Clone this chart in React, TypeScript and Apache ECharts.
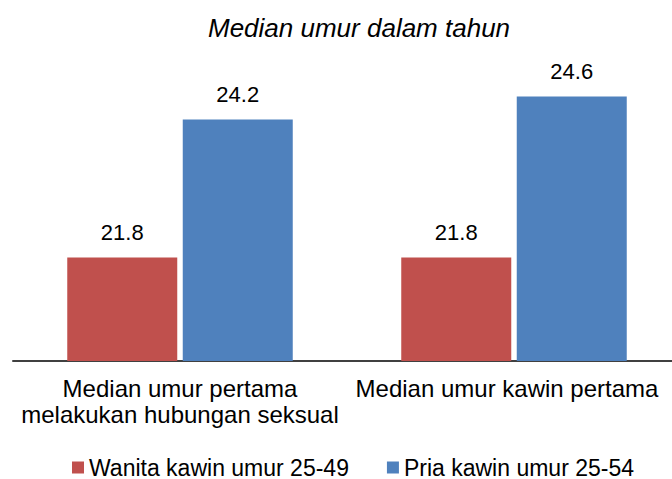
import React, { useEffect, useRef } from "react";
import * as echarts from "echarts";

const categories = [
  "Median umur pertama\nmelakukan hubungan seksual",
  "Median umur kawin pertama",
];
const seriesNames = ["Wanita kawin umur 25-49", "Pria kawin umur 25-54"];
const wanitaValues = [21.8, 21.8];
const priaValues = [24.2, 24.6];
const titleText = "Median umur dalam tahun";

const FONT = "'Liberation Sans', Arial, sans-serif";

export default function App() {
  const ref = useRef<HTMLDivElement>(null);
  useEffect(() => {
    document.body.style.margin = "0";
    if (!ref.current) return;
    const chart = echarts.init(ref.current, undefined, { renderer: "svg" });
    const valueLabel = {
      show: true,
      position: "top",
      distance: 14,
      fontFamily: FONT,
      fontSize: 22,
      color: "#000000",
      formatter: (p: any) => p.value.toFixed(1),
    };
    chart.setOption({
      animation: false,
      backgroundColor: "#ffffff",
      textStyle: { fontFamily: FONT },
      title: {
        text: titleText,
        left: 203,
        top: 10,
        textStyle: {
          fontFamily: FONT,
          fontStyle: "italic",
          fontWeight: "normal",
          fontSize: 26,
          color: "#000000",
        },
      },
      legend: {
        data: seriesNames,
        left: 72,
        top: 456,
        padding: 0,
        itemWidth: 12,
        itemHeight: 12,
        itemGap: 38,
        icon: "rect",
        textStyle: { fontFamily: FONT, fontSize: 23, color: "#000000", lineHeight: 22 },
      },
      grid: { left: 13, top: 16, right: 0, bottom: 118 },
      xAxis: {
        type: "category",
        data: categories,
        axisLine: { lineStyle: { color: "#404040", width: 2 } },
        axisTick: { show: false },
        axisLabel: {
          interval: 0,
          fontFamily: FONT,
          fontSize: 24,
          color: "#000000",
          lineHeight: 26,
          margin: 14,
          align: "center",
          formatter: (v: string, i: number) => (i === 1 ? `{r|${v}}` : v),
          rich: {
            r: {
              fontFamily: FONT,
              fontSize: 24,
              color: "#000000",
              lineHeight: 26,
              padding: [0, 14, 0, 0],
            },
          },
        },
      },
      yAxis: {
        type: "value",
        min: 20,
        max: 26,
        show: false,
        splitLine: { show: false },
      },
      series: [
        {
          name: seriesNames[0],
          type: "bar",
          data: wanitaValues,
          barWidth: 110,
          barGap: "5%",
          itemStyle: { color: "#C0504D" },
          label: valueLabel,
        },
        {
          name: seriesNames[1],
          type: "bar",
          data: priaValues,
          barWidth: 110,
          barGap: "5%",
          itemStyle: { color: "#4F81BD" },
          label: valueLabel,
        },
      ],
    });
    return () => chart.dispose();
  }, []);
  return (
    <div style={{ width: 672, height: 479, overflow: "hidden" }}>
      <div ref={ref} style={{ width: 681, height: 479 }} />
    </div>
  );
}
